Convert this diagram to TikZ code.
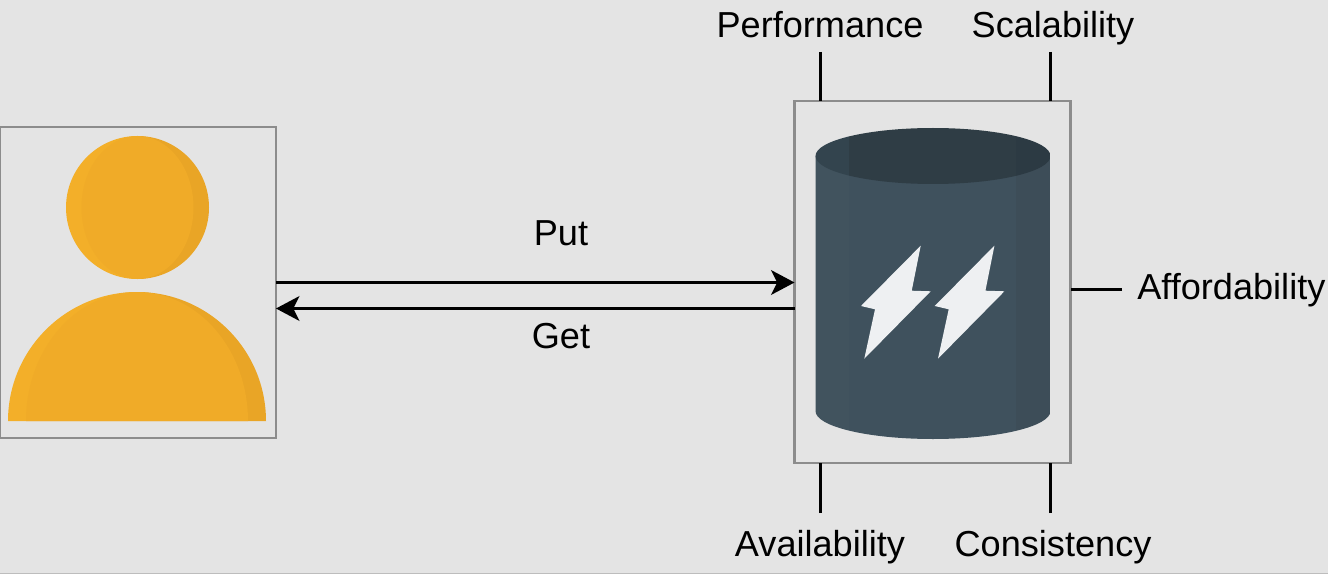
\documentclass[tikz,border=0pt]{standalone}
\usepackage{fontspec}
\setmainfont{Liberation Sans}
\usetikzlibrary{positioning,arrows.meta}
\definecolor{pagebg}{HTML}{E4E4E4}
\definecolor{pageedge}{HTML}{BDBDBD}
\definecolor{boxline}{HTML}{8C8C8C}
\definecolor{usermid}{HTML}{F0AB28}
\definecolor{userlight}{HTML}{F3AF29}
\definecolor{userdark}{HTML}{E9A526}
\definecolor{dbmid}{HTML}{3F515D}
\definecolor{dbleft}{HTML}{41535E}
\definecolor{dbside}{HTML}{3D4D58}
\definecolor{dbtop}{HTML}{2F3D45}
\definecolor{dbtopleft}{HTML}{33444E}
\definecolor{dbtopdark}{HTML}{2C3A43}
\definecolor{dbbolt}{HTML}{EEF0F2}

\begin{document}
\begin{tikzpicture}[
  x=0.75pt, y=-0.75pt,
  box/.style={draw=boxline, line width=1.9pt, outer sep=0pt, inner sep=0pt},
  lbl/.style={font=\fontsize{27.1}{32}\selectfont, inner sep=0pt, text height=19.5pt, text depth=6pt},
  tick/.style={line width=1.9pt},
  link/.style={line width=1.9pt, -{Stealth[length=17.5pt, width=18.5pt, inset=4.5pt]}},
  ]
  \useasboundingbox (0,0) rectangle (1328,574);
  \fill[pagebg] (0,0) rectangle (1328,574);
  \fill[pageedge] (0,573) rectangle (1328,574);

  % boxes
  \node[box, minimum width=207pt, minimum height=233pt] (user) at (138,282.5) {};
  \node[box, minimum width=207pt, minimum height=271.5pt] (store) at (932.5,282) {};

  % user icon
  \begin{scope}
    \clip (137.5,207.5) circle [radius=71.5];
    \fill[userlight] (60,130) rectangle (137.5,285);
    \fill[userdark] (137.5,130) rectangle (215,285);
    \fill[usermid] (137.5,207.5) ellipse [x radius=56, y radius=71.5];
  \end{scope}
  \begin{scope}
    \clip (8,421) .. controls (8,349.8) and (65.8,292) .. (137,292) .. controls (208.2,292) and (266,349.8) .. (266,421) -- cycle;
    \fill[userlight] (0,285) rectangle (137,425);
    \fill[userdark] (137,285) rectangle (280,425);
    \fill[usermid] (137,421) ellipse [x radius=111, y radius=129];
  \end{scope}

  % store icon
  \begin{scope}
    \clip (815.5,156) -- (815.5,411) .. controls (815.5,426.5) and (868,439) .. (933,439) .. controls (998,439) and (1050.5,426.5) .. (1050.5,411) -- (1050.5,156) -- cycle;
    \fill[dbleft] (815,150) rectangle (849,445);
    \fill[dbmid] (849,150) rectangle (1016,445);
    \fill[dbside] (1016,150) rectangle (1051,445);
  \end{scope}
  \begin{scope}
    \clip (933,156) ellipse [x radius=117.5, y radius=28];
    \fill[dbtopleft] (815,125) rectangle (849,190);
    \fill[dbtop] (849,125) rectangle (1016,190);
    \fill[dbtopdark] (1016,125) rectangle (1051,190);
  \end{scope}
  \fill[dbbolt] (920.7,245.7) -- (911.7,290.7) -- (930.7,291.3) -- (864.3,358.7) -- (875,309.3) -- (861,306) -- cycle;
  \fill[dbbolt] (994.4,245.7) -- (985.4,290.7) -- (1004.4,291.3) -- (938,358.7) -- (948.7,309.3) -- (934.7,306) -- cycle;

  % labels
  \node[lbl] (put) at (561,236.5) {Put};
  \node[lbl] (get) at (561,339) {Get};
  \node[lbl] (perf) at (820,29) {Performance};
  \node[lbl] (scal) at (1053,29) {Scalability};
  \node[lbl] (avail) at (820,547) {Availability};
  \node[lbl] (cons) at (1053,547) {Consistency};
  \node[lbl, anchor=west] (afford) at (1137,290.5) {Affordability};

  % ticks
  \coordinate (perftick) at (820.5,52);
  \coordinate (scaltick) at (1050.5,52);
  \coordinate (availtick) at (820.5,513);
  \coordinate (constick) at (1050.5,513);
  \coordinate (afftick) at (1122,289.5);
  \draw[tick] (perftick) -- (perftick |- store.north);
  \draw[tick] (scaltick) -- (scaltick |- store.north);
  \draw[tick] (availtick) -- (availtick |- store.south);
  \draw[tick] (constick) -- (constick |- store.south);
  \draw[tick] (afftick) -- (afftick -| store.east);

  % arrows
  \coordinate (putlane) at (0,282.5);
  \coordinate (getlane) at (0,308.5);
  \draw[link] (putlane -| user.east) -- (putlane -| store.west);
  \draw[link] (getlane -| store.west) -- (getlane -| user.east);
\end{tikzpicture}
\end{document}
